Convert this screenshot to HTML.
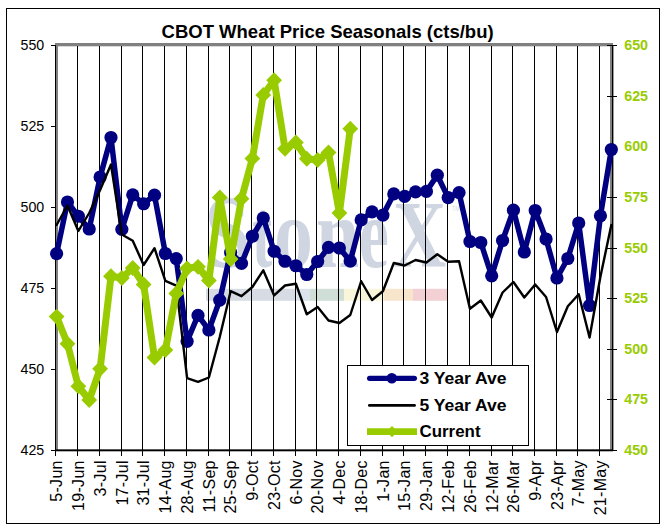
<!DOCTYPE html>
<html><head><meta charset="utf-8"><title>CBOT Wheat Price Seasonals</title>
<style>
html,body{margin:0;padding:0;background:#fff;}
body{width:663px;height:531px;overflow:hidden;font-family:"Liberation Sans",sans-serif;}
svg{display:block;font-family:"Liberation Sans",sans-serif;}
</style></head><body>
<svg width="663" height="531" viewBox="0 0 663 531">
<rect x="0" y="0" width="663" height="531" fill="#fff"/>
<defs><filter id="wb" x="-5%" y="-5%" width="110%" height="110%"><feGaussianBlur stdDeviation="0.7"/></filter></defs>
<!-- outer frame -->
<rect x="6.5" y="8.5" width="653" height="515" fill="none" stroke="#000" stroke-width="1"/>
<!-- watermark -->
<g font-family="'Liberation Serif',serif" font-weight="bold" fill="#d0d6e1" filter="url(#wb)">
<text x="204.6" y="266.5" font-size="104.6" textLength="45.9" lengthAdjust="spacingAndGlyphs">S</text>
<text x="252.0" y="266.5" font-size="100.4" textLength="20.2" lengthAdjust="spacingAndGlyphs">t</text>
<text x="274.0" y="266.5" font-size="100.4" textLength="38.9" lengthAdjust="spacingAndGlyphs">o</text>
<text x="315.9" y="266.5" font-size="100.4" textLength="43.3" lengthAdjust="spacingAndGlyphs">n</text>
<text x="358.7" y="266.5" font-size="100.4" textLength="30.1" lengthAdjust="spacingAndGlyphs">e</text>
<text x="393.1" y="266.5" font-size="95" textLength="53.3" lengthAdjust="spacingAndGlyphs">X</text>
</g>
<text x="452" y="211.3" font-family="'Liberation Sans',sans-serif" font-size="7" fill="#d5d9e0" textLength="7.5" lengthAdjust="spacingAndGlyphs">TM</text>
<rect x="206" y="288.8" width="90" height="12" fill="#d6dbe4"/>
<rect x="296" y="288.8" width="14" height="12" fill="#dbe4ec"/>
<rect x="310" y="288.8" width="34" height="12" fill="#cfdfd8"/>
<rect x="344" y="288.8" width="40" height="12" fill="#f8f5d8"/>
<rect x="384" y="288.8" width="29" height="12" fill="#f8e6cc"/>
<rect x="413" y="288.8" width="34" height="12" fill="#f3d0d3"/>
<!-- plot area border -->
<rect x="55" y="43" width="558" height="3.3" fill="#808080"/>
<rect x="56" y="43" width="2" height="407" fill="#808080"/>
<rect x="610" y="43" width="2" height="408" fill="#808080"/>
<g stroke="#000" stroke-width="1" shape-rendering="crispEdges">
<line x1="77.5" y1="46" x2="77.5" y2="456"/>
<line x1="99.5" y1="46" x2="99.5" y2="456"/>
<line x1="121.5" y1="46" x2="121.5" y2="456"/>
<line x1="142.5" y1="46" x2="142.5" y2="456"/>
<line x1="164.5" y1="46" x2="164.5" y2="456"/>
<line x1="186.5" y1="46" x2="186.5" y2="456"/>
<line x1="208.5" y1="46" x2="208.5" y2="456"/>
<line x1="229.5" y1="46" x2="229.5" y2="456"/>
<line x1="251.5" y1="46" x2="251.5" y2="456"/>
<line x1="273.5" y1="46" x2="273.5" y2="456"/>
<line x1="295.5" y1="46" x2="295.5" y2="456"/>
<line x1="316.5" y1="46" x2="316.5" y2="456"/>
<line x1="338.5" y1="46" x2="338.5" y2="456"/>
<line x1="360.5" y1="46" x2="360.5" y2="456"/>
<line x1="382.5" y1="46" x2="382.5" y2="456"/>
<line x1="403.5" y1="46" x2="403.5" y2="456"/>
<line x1="425.5" y1="46" x2="425.5" y2="456"/>
<line x1="447.5" y1="46" x2="447.5" y2="456"/>
<line x1="469.5" y1="46" x2="469.5" y2="456"/>
<line x1="491.5" y1="46" x2="491.5" y2="456"/>
<line x1="512.5" y1="46" x2="512.5" y2="456"/>
<line x1="534.5" y1="46" x2="534.5" y2="456"/>
<line x1="556.5" y1="46" x2="556.5" y2="456"/>
<line x1="577.5" y1="46" x2="577.5" y2="456"/>
<line x1="599.5" y1="46" x2="599.5" y2="456"/>
</g>
<g fill="#000" shape-rendering="crispEdges">
<rect x="55" y="45" width="1" height="411"/>
<rect x="612" y="45" width="1.4" height="406" shape-rendering="auto"/>
<rect x="55" y="449.35" width="558" height="1.95" shape-rendering="auto"/>
<rect x="51" y="45" width="5" height="1"/>
<rect x="51" y="126" width="5" height="1"/>
<rect x="51" y="207" width="5" height="1"/>
<rect x="51" y="288" width="5" height="1"/>
<rect x="51" y="369" width="5" height="1"/>
<rect x="51" y="450" width="5" height="1"/>
<rect x="607" y="45" width="10" height="1"/>
<rect x="607" y="96" width="10" height="1"/>
<rect x="607" y="146" width="10" height="1"/>
<rect x="607" y="197" width="10" height="1"/>
<rect x="607" y="248" width="10" height="1"/>
<rect x="607" y="298" width="10" height="1"/>
<rect x="607" y="349" width="10" height="1"/>
<rect x="607" y="399" width="10" height="1"/>
<rect x="607" y="450" width="10" height="1"/>
</g>
<polyline points="56.60,253.60 67.48,202.00 78.35,216.25 89.23,229.00 100.11,177.00 110.99,137.50 121.86,229.30 132.74,194.80 143.62,203.75 154.49,195.20 165.37,253.50 176.25,258.60 187.12,341.30 198.00,315.40 208.88,330.00 219.75,300.10 230.63,252.50 241.51,263.40 252.39,236.25 263.26,218.00 274.14,251.25 285.02,261.25 295.89,265.75 306.77,274.50 317.65,261.50 328.53,247.40 339.40,248.00 350.28,261.20 361.16,219.90 372.03,211.90 382.91,215.10 393.79,193.90 404.66,196.40 415.54,191.90 426.42,191.40 437.30,175.20 448.17,197.60 459.05,192.60 469.93,241.50 480.80,242.50 491.68,275.80 502.56,240.50 513.43,210.20 524.31,252.00 535.19,210.50 546.07,239.00 556.94,278.00 567.82,258.50 578.70,223.00 589.57,305.50 600.45,215.80 611.33,149.50" fill="none" stroke="#000080" stroke-width="5.5" stroke-linejoin="round" stroke-linecap="round"/>
<g fill="#000080">
<circle cx="56.60" cy="253.60" r="6.6"/>
<circle cx="67.48" cy="202.00" r="6.6"/>
<circle cx="78.35" cy="216.25" r="6.6"/>
<circle cx="89.23" cy="229.00" r="6.6"/>
<circle cx="100.11" cy="177.00" r="6.6"/>
<circle cx="110.99" cy="137.50" r="6.6"/>
<circle cx="121.86" cy="229.30" r="6.6"/>
<circle cx="132.74" cy="194.80" r="6.6"/>
<circle cx="143.62" cy="203.75" r="6.6"/>
<circle cx="154.49" cy="195.20" r="6.6"/>
<circle cx="165.37" cy="253.50" r="6.6"/>
<circle cx="176.25" cy="258.60" r="6.6"/>
<circle cx="187.12" cy="341.30" r="6.6"/>
<circle cx="198.00" cy="315.40" r="6.6"/>
<circle cx="208.88" cy="330.00" r="6.6"/>
<circle cx="219.75" cy="300.10" r="6.6"/>
<circle cx="230.63" cy="252.50" r="6.6"/>
<circle cx="241.51" cy="263.40" r="6.6"/>
<circle cx="252.39" cy="236.25" r="6.6"/>
<circle cx="263.26" cy="218.00" r="6.6"/>
<circle cx="274.14" cy="251.25" r="6.6"/>
<circle cx="285.02" cy="261.25" r="6.6"/>
<circle cx="295.89" cy="265.75" r="6.6"/>
<circle cx="306.77" cy="274.50" r="6.6"/>
<circle cx="317.65" cy="261.50" r="6.6"/>
<circle cx="328.53" cy="247.40" r="6.6"/>
<circle cx="339.40" cy="248.00" r="6.6"/>
<circle cx="350.28" cy="261.20" r="6.6"/>
<circle cx="361.16" cy="219.90" r="6.6"/>
<circle cx="372.03" cy="211.90" r="6.6"/>
<circle cx="382.91" cy="215.10" r="6.6"/>
<circle cx="393.79" cy="193.90" r="6.6"/>
<circle cx="404.66" cy="196.40" r="6.6"/>
<circle cx="415.54" cy="191.90" r="6.6"/>
<circle cx="426.42" cy="191.40" r="6.6"/>
<circle cx="437.30" cy="175.20" r="6.6"/>
<circle cx="448.17" cy="197.60" r="6.6"/>
<circle cx="459.05" cy="192.60" r="6.6"/>
<circle cx="469.93" cy="241.50" r="6.6"/>
<circle cx="480.80" cy="242.50" r="6.6"/>
<circle cx="491.68" cy="275.80" r="6.6"/>
<circle cx="502.56" cy="240.50" r="6.6"/>
<circle cx="513.43" cy="210.20" r="6.6"/>
<circle cx="524.31" cy="252.00" r="6.6"/>
<circle cx="535.19" cy="210.50" r="6.6"/>
<circle cx="546.07" cy="239.00" r="6.6"/>
<circle cx="556.94" cy="278.00" r="6.6"/>
<circle cx="567.82" cy="258.50" r="6.6"/>
<circle cx="578.70" cy="223.00" r="6.6"/>
<circle cx="589.57" cy="305.50" r="6.6"/>
<circle cx="600.45" cy="215.80" r="6.6"/>
<circle cx="611.33" cy="149.50" r="6.6"/>
</g>
<polyline points="56.60,225.00 67.48,205.50 78.35,231.00 89.23,213.00 100.11,190.00 110.99,164.50 121.86,234.50 132.74,240.75 143.62,265.00 154.49,248.20 165.37,280.80 176.25,285.60 187.12,378.10 198.00,381.80 208.88,377.50 219.75,337.00 230.63,291.20 241.51,296.20 252.39,287.00 263.26,270.30 274.14,295.40 285.02,285.50 295.89,283.75 306.77,314.25 317.65,307.00 328.53,320.50 339.40,323.00 350.28,315.00 361.16,281.25 372.03,300.00 382.91,291.25 393.79,263.00 404.66,265.50 415.54,260.00 426.42,262.50 437.30,254.25 448.17,261.75 459.05,261.25 469.93,308.75 480.80,300.50 491.68,317.50 502.56,292.50 513.43,282.00 524.31,297.50 535.19,284.50 546.07,297.00 556.94,332.00 567.82,306.25 578.70,294.25 589.57,337.50 600.45,276.50 611.33,225.00" fill="none" stroke="#000" stroke-width="2.4" stroke-linejoin="round" stroke-linecap="round"/>
<polyline points="56.60,316.60 67.48,343.75 78.35,386.25 89.23,400.00 100.11,368.75 110.99,276.25 121.86,278.00 132.74,268.00 143.62,284.50 154.49,357.50 165.37,350.00 176.25,293.40 187.12,268.30 198.00,266.80 208.88,280.50 219.75,197.50 230.63,259.00 241.51,198.75 252.39,158.50 263.26,95.00 274.14,80.20 285.02,148.75 295.89,142.50 306.77,158.75 317.65,160.00 328.53,152.50 339.40,213.00 350.28,128.75" fill="none" stroke="#99CC00" stroke-width="7" stroke-linejoin="round" stroke-linecap="butt"/>
<g fill="#99CC00">
<path d="M56.60,308.70 L64.50,316.60 L56.60,324.50 L48.70,316.60 Z"/>
<path d="M67.48,335.85 L75.38,343.75 L67.48,351.65 L59.58,343.75 Z"/>
<path d="M78.35,378.35 L86.25,386.25 L78.35,394.15 L70.45,386.25 Z"/>
<path d="M89.23,392.10 L97.13,400.00 L89.23,407.90 L81.33,400.00 Z"/>
<path d="M100.11,360.85 L108.01,368.75 L100.11,376.65 L92.21,368.75 Z"/>
<path d="M110.99,268.35 L118.89,276.25 L110.99,284.15 L103.09,276.25 Z"/>
<path d="M121.86,270.10 L129.76,278.00 L121.86,285.90 L113.96,278.00 Z"/>
<path d="M132.74,260.10 L140.64,268.00 L132.74,275.90 L124.84,268.00 Z"/>
<path d="M143.62,276.60 L151.52,284.50 L143.62,292.40 L135.72,284.50 Z"/>
<path d="M154.49,349.60 L162.39,357.50 L154.49,365.40 L146.59,357.50 Z"/>
<path d="M165.37,342.10 L173.27,350.00 L165.37,357.90 L157.47,350.00 Z"/>
<path d="M176.25,285.50 L184.15,293.40 L176.25,301.30 L168.35,293.40 Z"/>
<path d="M187.12,260.40 L195.02,268.30 L187.12,276.20 L179.22,268.30 Z"/>
<path d="M198.00,258.90 L205.90,266.80 L198.00,274.70 L190.10,266.80 Z"/>
<path d="M208.88,272.60 L216.78,280.50 L208.88,288.40 L200.98,280.50 Z"/>
<path d="M219.75,189.60 L227.66,197.50 L219.75,205.40 L211.85,197.50 Z"/>
<path d="M230.63,251.10 L238.53,259.00 L230.63,266.90 L222.73,259.00 Z"/>
<path d="M241.51,190.85 L249.41,198.75 L241.51,206.65 L233.61,198.75 Z"/>
<path d="M252.39,150.60 L260.29,158.50 L252.39,166.40 L244.49,158.50 Z"/>
<path d="M263.26,87.10 L271.16,95.00 L263.26,102.90 L255.36,95.00 Z"/>
<path d="M274.14,72.30 L282.04,80.20 L274.14,88.10 L266.24,80.20 Z"/>
<path d="M285.02,140.85 L292.92,148.75 L285.02,156.65 L277.12,148.75 Z"/>
<path d="M295.89,134.60 L303.79,142.50 L295.89,150.40 L287.99,142.50 Z"/>
<path d="M306.77,150.85 L314.67,158.75 L306.77,166.65 L298.87,158.75 Z"/>
<path d="M317.65,152.10 L325.55,160.00 L317.65,167.90 L309.75,160.00 Z"/>
<path d="M328.53,144.60 L336.43,152.50 L328.53,160.40 L320.63,152.50 Z"/>
<path d="M339.40,205.10 L347.30,213.00 L339.40,220.90 L331.50,213.00 Z"/>
<path d="M350.28,120.85 L358.18,128.75 L350.28,136.65 L342.38,128.75 Z"/>
</g>
<text x="327.6" y="37.5" text-anchor="middle" font-size="18.5" font-weight="bold" fill="#000">CBOT Wheat Price Seasonals (cts/bu)</text>
<g font-size="14.2" fill="#000" text-anchor="end">
<text x="44.2" y="50.0">550</text>
<text x="44.2" y="131.0">525</text>
<text x="44.2" y="212.0">500</text>
<text x="44.2" y="293.0">475</text>
<text x="44.2" y="374.0">450</text>
<text x="44.2" y="455.0">425</text>
</g>
<g font-size="14.3" font-weight="bold" fill="#99CC00">
<text x="624.2" y="50.10">650</text>
<text x="624.2" y="100.72">625</text>
<text x="624.2" y="151.35">600</text>
<text x="624.2" y="201.97">575</text>
<text x="624.2" y="252.60">550</text>
<text x="624.2" y="303.23">525</text>
<text x="624.2" y="353.85">500</text>
<text x="624.2" y="404.48">475</text>
<text x="624.2" y="455.10">450</text>
</g>
<g font-size="16" fill="#000" text-anchor="end" letter-spacing="0.3">
<text transform="translate(62.00,460.2) rotate(-90)">5-Jun</text>
<text transform="translate(84.00,460.2) rotate(-90)">19-Jun</text>
<text transform="translate(106.00,460.2) rotate(-90)">3-Jul</text>
<text transform="translate(128.00,460.2) rotate(-90)">17-Jul</text>
<text transform="translate(149.00,460.2) rotate(-90)">31-Jul</text>
<text transform="translate(171.00,460.2) rotate(-90)">14-Aug</text>
<text transform="translate(193.00,460.2) rotate(-90)">28-Aug</text>
<text transform="translate(215.00,460.2) rotate(-90)">11-Sep</text>
<text transform="translate(236.00,460.2) rotate(-90)">25-Sep</text>
<text transform="translate(258.00,460.2) rotate(-90)">9-Oct</text>
<text transform="translate(280.00,460.2) rotate(-90)">23-Oct</text>
<text transform="translate(302.00,460.2) rotate(-90)">6-Nov</text>
<text transform="translate(323.00,460.2) rotate(-90)">20-Nov</text>
<text transform="translate(345.00,460.2) rotate(-90)">4-Dec</text>
<text transform="translate(367.00,460.2) rotate(-90)">18-Dec</text>
<text transform="translate(389.00,460.2) rotate(-90)">1-Jan</text>
<text transform="translate(410.00,460.2) rotate(-90)">15-Jan</text>
<text transform="translate(432.00,460.2) rotate(-90)">29-Jan</text>
<text transform="translate(454.00,460.2) rotate(-90)">12-Feb</text>
<text transform="translate(476.00,460.2) rotate(-90)">26-Feb</text>
<text transform="translate(498.00,460.2) rotate(-90)">12-Mar</text>
<text transform="translate(519.00,460.2) rotate(-90)">26-Mar</text>
<text transform="translate(541.00,460.2) rotate(-90)">9-Apr</text>
<text transform="translate(563.00,460.2) rotate(-90)">23-Apr</text>
<text transform="translate(584.00,460.2) rotate(-90)">7-May</text>
<text transform="translate(606.00,460.2) rotate(-90)">21-May</text>
</g>
<!-- legend -->
<rect x="347.5" y="365.5" width="181" height="80" fill="#fff" stroke="#000" stroke-width="1"/>
<line x1="369.6" y1="378.3" x2="414.4" y2="378.3" stroke="#000080" stroke-width="5.2" stroke-linecap="round"/>
<circle cx="391.8" cy="378.3" r="5.3" fill="#000080"/>
<line x1="369.3" y1="405.4" x2="414.6" y2="405.4" stroke="#000" stroke-width="2.6" stroke-linecap="round"/>
<line x1="367" y1="431.6" x2="417" y2="431.6" stroke="#99CC00" stroke-width="6.6"/>
<path d="M392,426 L397.5,431.6 L392,437.2 L386.5,431.6 Z" fill="#99CC00"/>
<g font-size="16" font-weight="bold" fill="#000">
<text x="419.5" y="383.5" textLength="87" lengthAdjust="spacingAndGlyphs">3 Year Ave</text>
<text x="419.5" y="410.5" textLength="87" lengthAdjust="spacingAndGlyphs">5 Year Ave</text>
<text x="419.5" y="436.7" textLength="61" lengthAdjust="spacingAndGlyphs">Current</text>
</g>
</svg>
</body></html>
